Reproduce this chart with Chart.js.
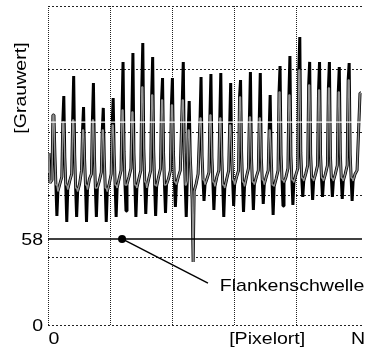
<!DOCTYPE html>
<html><head><meta charset="utf-8">
<script src="https://cdn.jsdelivr.net/npm/chart.js@4/dist/chart.umd.min.js"></script>
<style>html,body{margin:0;padding:0;background:#fff;overflow:hidden}#wrap{width:366px;height:348px;position:relative}</style>
</head><body><div id="wrap"><canvas id="c"></canvas></div>
<script>
// ---- data (x = pixel position along the line, y = grey value) ----
const startX = [0, 1, 2, 4];
const startV = [103.1, 115.9, 95.7, 97.7];
const peakX = [6,16,26,36,46,56,66,76,86,96,106,116,126,137,143,155,165,175,185,195,205,215,225,235,245,255,265,275,285,295,305,317];
const peakV = [141.5,154.3,167.8,146.9,163.1,146.3,153.0,177.3,183.3,190.1,180.6,166.5,166.5,177.3,151.0,167.2,169.2,169.8,163.1,165.1,170.5,169.8,155.0,174.6,181.3,194.1,177.3,177.3,177.3,173.9,176.6,156.4];
const shoulderV = [141.5,136.8,138.2,131.4,138.2,131.4,134.8,144.9,143.6,160.4,155.0,151.7,148.3,151.7,131.4,139.5,141.5,139.5,134.8,153.7,140.2,139.5,131.4,157.0,155.0,171.9,161.8,158.4,159.7,157.0,165.1,156.4];
const dropV = [114,113,115,112,114,111,115,117,116,119,118,116,117,116,114,114,113,114,115,117,114,113,114,115,114,116,115,115,114,116,115];
const troughX = [9,19,29,39,49,59,69,79,89,99,109,119,129,140,147,158,168,178,188,198,208,218,228,238,248,258,268,278,288,298,308];
const edgeV = [94.4,94.4,92.3,94.4,92.3,92.3,94.4,94.4,94.4,96.4,94.4,94.4,96.4,94.4,84.3,97.7,96.4,94.4,97.7,96.4,96.4,97.7,94.4,97.7,97.7,99.1,99.1,99.1,99.1,99.1,99.1];
const troughV = [73.5,69.4,72.8,69.4,72.8,69.4,72.8,76.8,72.8,74.8,73.5,75.5,79.5,72.8,42.5,83.6,77.5,72.8,80.2,76.2,77.5,81.6,74.1,80.2,80.9,86.3,84.3,86.3,86.3,84.9,83.6];
const rec1V = [90.0,91.3,90.0,91.3,92.4,90.0,92.4,94.7,92.4,92.4,93.4,94.7,94.7,97.1,90.0,94.7,93.4,92.4,94.7,93.4,94.7,94.7,93.4,96.1,96.1,97.1,97.1,97.1,97.1,97.1,97.1];
const rec2V = [95.1,97.1,95.1,98.5,97.1,95.1,98.5,99.8,98.5,98.5,99.8,98.5,99.8,null,95.1,98.5,99.8,98.5,99.8,99.8,99.8,99.8,98.5,99.8,101.2,101.8,101.8,101.8,101.8,101.8,101.8];
const baseV = [99.8,101.8,104.2,101.8,102.9,101.8,104.2,105.6,104.2,104.2,105.6,104.2,104.2,null,101.8,102.9,104.2,104.2,104.2,105.6,104.2,104.2,104.2,105.6,105.6,107.6,107.6,107.6,107.6,107.6,104.2];
const threshold = 58;
const whiteLevel = 136.8;
const leaderFrom = {x: 75, y: 58};
const leaderTo = {x: 162, y: 28.3};
const labelAnchor = {x: 174, y: 26.3};
const xRange = [0, 318];
const yRange = [0, 215];
const xGrid = [0, 63, 126, 189, 252];
const yGrid = [0, 45.5, 87.5, 129.5, 172, 215];
const yTickLabels = [{v: 0, t: '0'}, {v: 58, t: '58'}];
const xTickLabels = [{v: 6, t: '0'}, {v: 222, t: '[Pixelort]'}, {v: 314, t: 'N'}];
const yTitle = {t: '[Grauwert]', v: 159.7};
const labelText = 'Flankenschwelle';
const openTroughs = [14];

// ---- build line from the arrays ----
const sig = [], sigGray = [];
function add(x, y, gy) { sig.push({x, y}); sigGray.push({x, y: gy === undefined ? y : gy}); }
for (let i = 0; i < startX.length; i++) add(startX[i], startV[i]);
for (let c = 0; c < peakX.length; c++) {
  const p = peakX[c];
  add(p - 1, shoulderV[c]);
  add(p, peakV[c], shoulderV[c]);
  if (c < troughX.length) {
    const tx = troughX[c];
    add(p + 1, dropV[c]);
    if (tx - 1 > p + 1) add(tx - 1, edgeV[c]);
    add(tx, troughV[c], openTroughs.includes(c) ? troughV[c] : edgeV[c]);
    add(tx + 1, rec1V[c]);
    const nextG = peakX[c + 1] - 1;
    if (rec2V[c] !== null && tx + 3 < nextG) add(tx + 3, rec2V[c]);
    if (baseV[c] !== null && tx + 5 < nextG) add(tx + 5, baseV[c]);
  }
}

const FONT = '17px "Liberation Sans", Arial, sans-serif';
const SX = 1.15;
function txt(ctx, t, x, y, align, rot) {
  ctx.save();
  ctx.translate(x, y);
  if (rot) ctx.rotate(rot);
  ctx.scale(SX, 1);
  ctx.font = FONT; ctx.fillStyle = '#000';
  ctx.textAlign = align; ctx.textBaseline = 'middle';
  ctx.fillText(t, 0, 0);
  ctx.restore();
}
const textPlugin = {
  id: 'texts',
  afterDraw(chart) {
    const ctx = chart.ctx, xs = chart.scales.x, ys = chart.scales.y, ca = chart.chartArea;
    yTickLabels.forEach(l => txt(ctx, l.t, ca.left - 5, ys.getPixelForValue(l.v) + 1, 'right'));
    xTickLabels.forEach(l => txt(ctx, l.t, xs.getPixelForValue(l.v), ca.bottom + 14, 'center'));
    txt(ctx, yTitle.t, 21, ys.getPixelForValue(yTitle.v), 'center', -Math.PI / 2);
    txt(ctx, labelText, xs.getPixelForValue(labelAnchor.x), ys.getPixelForValue(labelAnchor.y), 'left');
  }
};

new Chart(document.getElementById('c'), {
  type: 'line',
  data: {
    datasets: [
      {data: sig, borderColor: '#000', borderWidth: 3.0, pointRadius: 0, tension: 0, borderJoinStyle: 'bevel', order: 5},
      {data: sigGray, borderColor: '#939393', borderWidth: 1.4, pointRadius: 0, tension: 0, borderJoinStyle: 'bevel', order: 4},
      {data: [{x: xRange[0], y: whiteLevel}, {x: xRange[1], y: whiteLevel}], borderColor: '#fff', borderWidth: 1.2, pointRadius: 0, order: 3},
      {data: [{x: xRange[0], y: threshold}, {x: xRange[1], y: threshold}], borderColor: '#000', borderWidth: 1.4, pointRadius: 0, order: 2},
      {data: [leaderFrom, leaderTo], borderColor: '#000', borderWidth: 1.4, pointRadius: [4, 0], pointBackgroundColor: '#000', pointBorderWidth: 0, order: 1}
    ]
  },
  options: {
    responsive: true, maintainAspectRatio: false, animation: false, devicePixelRatio: 1,
    layout: {padding: {left: 48, top: 6, right: 0, bottom: 23}},
    plugins: {legend: {display: false}, tooltip: {enabled: false}},
    events: [],
    scales: {
      x: {type: 'linear', min: xRange[0], max: xRange[1],
          afterBuildTicks: s => { s.ticks = xGrid.map(v => ({value: v})); },
          ticks: {display: false}, grid: {color: '#222', lineWidth: 1, drawTicks: false, tickLength: 0},
          border: {display: false, dash: [1, 1]}},
      y: {type: 'linear', min: yRange[0], max: yRange[1],
          afterBuildTicks: s => { s.ticks = yGrid.map(v => ({value: v})); },
          ticks: {display: false}, grid: {color: '#222', lineWidth: 1, drawTicks: false, tickLength: 0},
          border: {display: false, dash: [2, 2]}}
    }
  },
  plugins: [textPlugin]
});
</script></body></html>
